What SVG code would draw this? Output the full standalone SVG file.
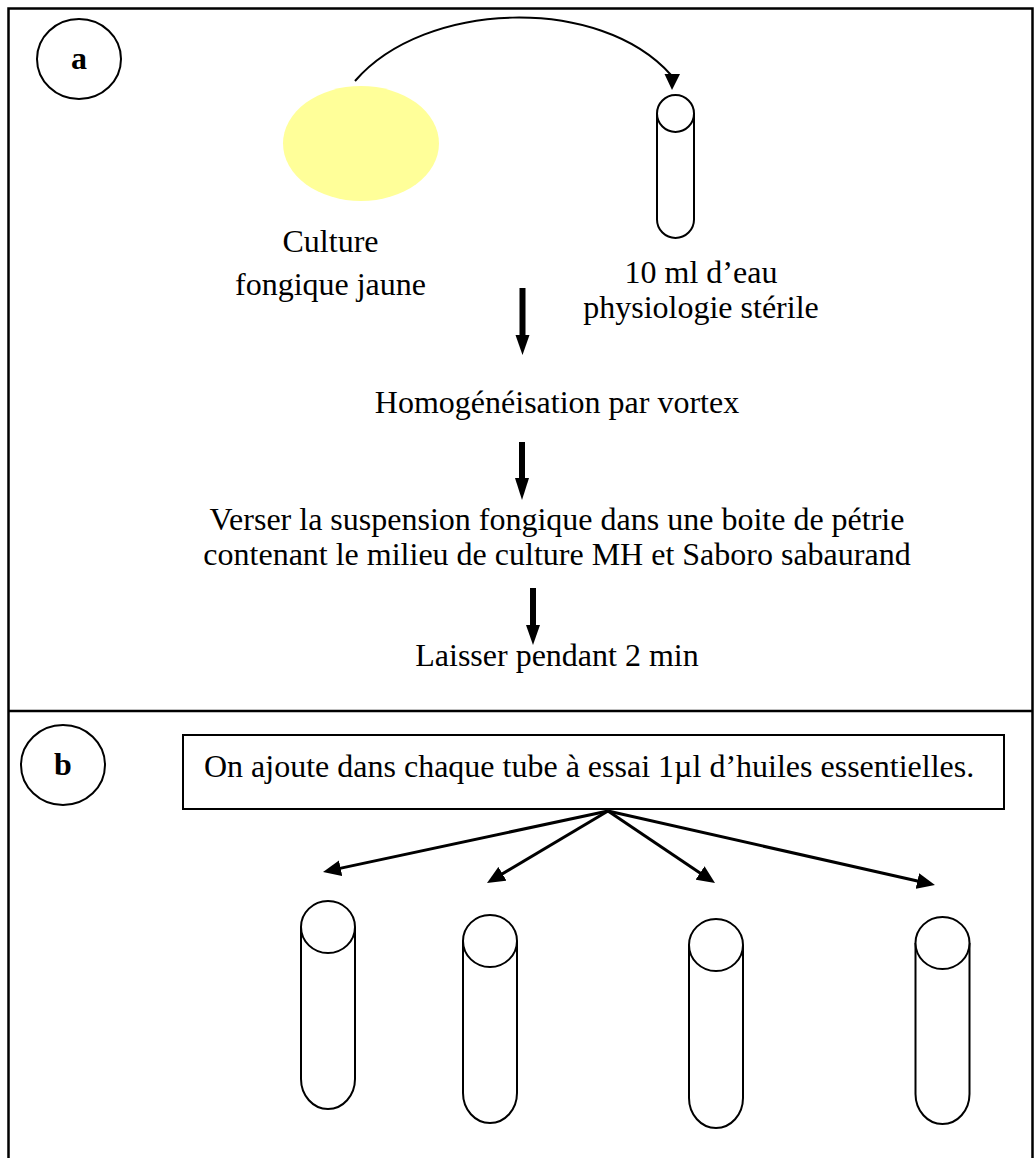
<svg xmlns="http://www.w3.org/2000/svg" width="1035" height="1158" viewBox="0 0 1035 1158">
  <defs>
    <style>
      .frame { fill: none; stroke: #000; stroke-width: 2.5; }
      .outline { fill: #fff; stroke: #000; stroke-width: 2; }
      .thin { fill: none; stroke: #000; stroke-width: 2; }
      .fan { fill: none; stroke: #000; stroke-width: 3; }
      .solid { fill: #000; stroke: none; }
      .txt { font-family: "Liberation Serif", "Times New Roman", serif; font-size: 32px; fill: #000; }
      .mid { text-anchor: middle; }
      .bold { font-weight: bold; }
    </style>
    <marker id="head" viewBox="0 0 18 16" refX="8" refY="8" markerWidth="18" markerHeight="16" markerUnits="userSpaceOnUse" orient="auto">
      <path d="M0,0 L18,8 L0,16 z" fill="#000"/>
    </marker>
  </defs>

  <rect width="1035" height="1158" fill="#fff"/>

  <!-- outer frame and panel divider -->
  <g id="frame">
    <rect class="frame" x="8.5" y="8.5" width="1024" height="1170"/>
    <line class="frame" x1="8.5" y1="711" x2="1032.5" y2="711"/>
  </g>

  <!-- panel a -->
  <g id="label-a">
    <ellipse class="thin" cx="79" cy="59" rx="42" ry="40"/>
    <text class="txt mid bold" x="79" y="69">a</text>
  </g>

  <g id="culture">
    <ellipse cx="361" cy="143.5" rx="78" ry="57.5" fill="#FFFF99"/>
    <text class="txt mid" x="330.5" y="252">Culture</text>
    <text class="txt mid" x="330.5" y="295">fongique jaune</text>
  </g>

  <g id="tube-water">
    <path class="outline" d="M657,113.5 V219.5 A18.5,18.5 0 0 0 694,219.5 V113.5"/>
    <circle class="outline" cx="675.5" cy="113.5" r="18.5"/>
    <text class="txt mid" x="701" y="283">10 ml d’eau</text>
    <text class="txt mid" x="701" y="318">physiologie stérile</text>
  </g>

  <g id="step-vortex">
    <text class="txt mid" x="557" y="413">Homogénéisation par vortex</text>
  </g>

  <g id="step-pour">
    <text class="txt mid" x="557" y="530">Verser la suspension fongique dans une boite de pétrie</text>
    <text class="txt mid" x="557" y="565">contenant le milieu de culture MH et Saboro sabaurand</text>
  </g>

  <g id="step-wait">
    <text class="txt mid" x="557" y="666">Laisser pendant 2 min</text>
  </g>

  <!-- panel b -->
  <g id="label-b">
    <ellipse class="thin" cx="63" cy="765" rx="42" ry="40"/>
    <text class="txt mid bold" x="63" y="775">b</text>
  </g>

  <g id="step-oil">
    <rect class="thin" x="183" y="735" width="821" height="74"/>
    <text class="txt" x="204" y="777">On ajoute dans chaque tube à essai 1µl d’huiles essentielles.</text>
  </g>

  <g id="tube-1">
    <path class="outline" d="M301,927 V1079 A27,30 0 0 0 355,1079 V927"/>
    <ellipse class="outline" cx="328" cy="927" rx="27" ry="26"/>
  </g>
  <g id="tube-2">
    <path class="outline" d="M463,941 V1093 A27,30 0 0 0 517,1093 V941"/>
    <ellipse class="outline" cx="490" cy="941" rx="27" ry="26"/>
  </g>
  <g id="tube-3">
    <path class="outline" d="M689,945 V1098 A27,30 0 0 0 743,1098 V945"/>
    <ellipse class="outline" cx="716" cy="945" rx="27" ry="26"/>
  </g>
  <g id="tube-4">
    <path class="outline" d="M915.5,943 V1094 A27,30 0 0 0 969.5,1094 V943"/>
    <ellipse class="outline" cx="942.5" cy="943" rx="27" ry="26"/>
  </g>

  <!-- connectors -->
  <g id="connectors">
    <path class="thin" d="M355,81 C425,0 600,-5 671,75"/>
    <polygon class="solid" points="664.5,74 680,74 672,90"/>

    <rect class="solid" x="519.5" y="288" width="6" height="48"/>
    <polygon class="solid" points="515.5,335 529.5,335 522.5,355"/>

    <rect class="solid" x="519" y="442" width="6" height="37"/>
    <polygon class="solid" points="515,478 529,478 522,500"/>

    <rect class="solid" x="530" y="588" width="6" height="38"/>
    <polygon class="solid" points="526,625 540,625 533,645"/>

    <line class="fan" x1="608" y1="811" x2="332.8" y2="869.9" marker-end="url(#head)"/>
    <line class="fan" x1="608" y1="811" x2="495.6" y2="877.9" marker-end="url(#head)"/>
    <line class="fan" x1="608" y1="811" x2="706.7" y2="877.4" marker-end="url(#head)"/>
    <line class="fan" x1="608" y1="811" x2="925.2" y2="882.8" marker-end="url(#head)"/>
  </g>
</svg>
